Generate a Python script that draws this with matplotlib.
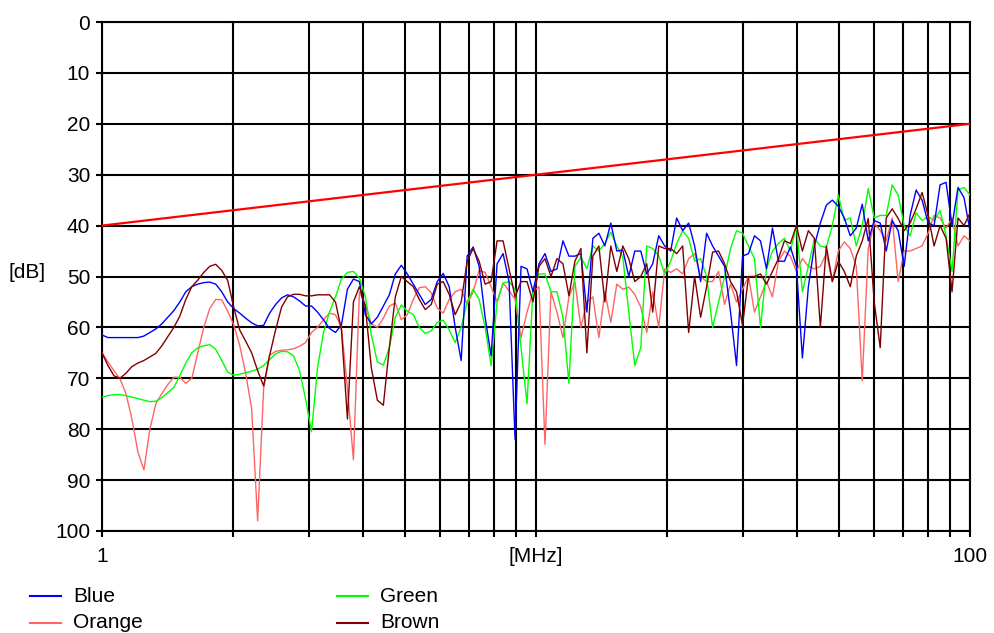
import numpy as np
import matplotlib.pyplot as plt
from matplotlib import font_manager
from matplotlib.lines import Line2D

# fonts: a narrow sans looks closest to the old bitmap font
names = {f.name for f in font_manager.fontManager.ttflist}
if 'Liberation Sans Narrow' in names:
    plt.rcParams['font.family'] = ['Liberation Sans Narrow', 'DejaVu Sans']
    fsize = 18
else:
    plt.rcParams['font.family'] = ['Liberation Sans', 'DejaVu Sans']
    fsize = 15

# ===============================
# DATA
# ===============================
# sampling grid 1..100 MHz (146 points, log spaced)
freq = np.geomspace(1, 100, 146)

blue = [
    61.5, 62, 62, 62, 62, 62, 62, 61.7, 61, 60.3,
    59.3, 58, 56.7, 55, 53, 52, 51.5, 51.2, 51.1, 51.5,
    53, 55, 56.3, 57.2, 58.2, 59.1, 59.7, 59.6, 57.2, 55.5,
    54.2, 53.6, 54, 54.8, 55.8, 55.8, 57, 58.5, 60.2, 61,
    59.5, 52.5, 50.5, 51, 57.5, 59.3, 58, 55.8, 53.6, 49.5,
    47.8, 49.5, 51.5, 53.5, 55.5, 54.5, 51, 49.4, 52, 60,
    66.5, 46, 44.2, 48, 58, 65.6, 47.5, 45.5, 51, 82,
    48, 48.5, 53, 47.5, 45.5, 49, 48.5, 43, 46, 46,
    45.5, 57, 42.5, 41.5, 44, 39.5, 45, 44.8, 50, 45,
    45, 49.5, 47.5, 42, 44, 45, 38.5, 41, 39.5, 44,
    51, 41.5, 44, 46, 48, 57, 67.5, 46, 45.5, 42,
    43, 48.5, 40.5, 47, 47, 44.2, 48, 66, 52, 44,
    39.5, 36, 35, 36.2, 38.5, 42, 40.5, 35.8, 43, 39,
    39.5, 45, 39, 41, 48, 38, 33, 35, 39.5, 40,
    32, 31.5, 40, 32.5, 34.5, 41,
]

green = [
    73.7, 73.4, 73.2, 73.2, 73.4, 73.7, 74, 74.3, 74.6, 74.5,
    73.8, 72.8, 71.8, 69.5, 67, 65, 64, 63.6, 63.4, 64.3,
    66.5, 68.8, 69.4, 69.2, 68.9, 68.6, 68.2, 67.5, 66.3, 65.2,
    64.7, 64.8, 65.6, 68.5, 74, 80.5, 68, 61, 57, 54,
    50.5, 49.2, 49, 50.3, 54, 61.5, 66.8, 67.4, 64, 58,
    55.6, 56.8, 57.5, 60, 61.2, 60.7, 59, 58.6, 60.5, 63,
    60, 55, 52.5, 54.5, 60, 67.5, 55, 51.3, 51, 52.5,
    64, 75, 52.5, 49.5, 49.5, 53, 53, 58, 71, 48,
    46.2, 48.5, 44, 45, 43.5, 41.3, 44, 46.2, 57, 67.5,
    64, 44, 44.5, 45.9, 49.5, 47, 43.5, 41, 42.5, 47,
    46.5, 50, 60, 55, 50, 44.5, 41, 41.5, 44, 46.5,
    60, 48.5, 45, 43.5, 42.5, 45, 40, 53, 48, 42.6,
    44, 44.3, 40, 34, 39, 38.5, 44, 40, 32.7, 38.5,
    38, 38, 32, 34, 40, 42, 37.5, 39, 38.2, 39,
    37, 42, 49, 33, 32.5, 34,
]

orange = [
    65, 66.8, 68.5, 70.1, 73, 78, 84.5, 88, 80, 75,
    73, 71.2, 69.8, 69.8, 71, 70, 65, 60, 56.3, 54.5,
    54.6, 56.8, 59.5, 63.5, 69, 76, 98, 72, 65.5, 64.7,
    64.5, 64.4, 64.2, 63.7, 63, 61, 60, 58.5, 57.2, 57.5,
    60, 72, 86, 53, 55.5, 59.3, 60, 58.2, 55.8, 55.2,
    58.5, 57.5, 54.5, 52.2, 52, 53.2, 56.2, 57.2, 54.5, 53,
    52.5, 55.5, 53, 48.8, 49.2, 52, 55, 51.3, 52.8, 54.5,
    62, 57, 53, 52, 83, 53, 57, 62, 54, 51,
    60, 55, 54, 62, 53, 59, 51.5, 52.5, 52.1, 53.5,
    56, 61, 53, 60, 48.5, 49.2, 48.5, 49.5, 46.5, 45.5,
    50, 51, 51, 49, 55.5, 51.5, 55, 52.5, 50, 57,
    54, 51, 54, 47, 45, 46, 49, 46.5, 48, 48.5,
    48, 45.5, 51, 45, 43.2, 44.5, 48, 70.5, 44.5, 39.5,
    41, 43, 38.5, 51, 45, 45, 44.5, 44, 41.5, 38,
    38.5, 40.5, 38.6, 44, 42, 43,
]

brown = [
    65, 67.5, 69.5, 70, 69, 67.7, 67, 66.5, 65.8, 65.1,
    63.6, 61.8, 60, 57.8, 54.5, 52, 50.7, 49.2, 48, 47.6,
    48.8, 50.8, 56, 60.5, 62.7, 65, 68.5, 71.5, 65.5, 60.5,
    56, 54, 53.5, 53.5, 53.8, 53.8, 53.6, 53.6, 53.6, 55,
    60.5, 78, 55, 52, 56, 68, 74.3, 75.3, 64, 54,
    50, 51, 52, 54.5, 56.5, 55.5, 51.5, 51, 53.5, 57.5,
    55, 47, 44.5, 47, 51.5, 51, 43, 43, 48.5, 54,
    51, 51, 55, 48, 46.5, 50, 46.5, 47.5, 53.8, 47,
    44.5, 65, 46, 44, 55, 44, 49, 44, 46.5, 51,
    50, 47.5, 57, 44, 44.5, 44.5, 45.5, 44, 61, 50,
    58, 52, 45.2, 45, 47.5, 51, 53, 59.6, 50, 50,
    49.5, 51.5, 49, 46.5, 43, 43.5, 40, 45, 41, 42.5,
    60, 44, 51, 47, 49, 52, 46, 43, 38.6, 55,
    64, 38.5, 36.7, 38.6, 41, 39.5, 36.7, 33.5, 38, 44,
    40, 42.5, 53, 38.5, 40, 37.5,
]

# limit line
limit_freq = [1, 100]
limit_db = [40, 20]

series_names = ["Blue", "Orange", "Green", "Brown"]
series_colors = ["#0000FF", "#FF6464", "#00FF00", "#800000"]

y_ticks = list(range(0, 101, 10))
x_major = [1, 10, 100]
x_major_labels = ["1", "[MHz]", "100"]
x_minor = [2, 3, 4, 5, 6, 7, 8, 9, 20, 30, 40, 50, 60, 70, 80, 90]

# ===============================
# PLOT
# ===============================
W, H = 994, 633
fig = plt.figure(figsize=(W / 100, H / 100), dpi=100)
fig.patch.set_facecolor("white")
ax = fig.add_axes([102 / W, 102 / H, 868 / W, 509 / H])

data = {"Blue": blue, "Orange": orange, "Green": green, "Brown": brown}
color_of = dict(zip(series_names, series_colors))
for name in ["Orange", "Green", "Blue", "Brown"]:
    ax.plot(freq, data[name], color=color_of[name], lw=1.0, zorder=3)

ax.plot(limit_freq, limit_db, color="#FF0000", lw=1.6, zorder=4)

ax.set_xscale("log")
ax.set_xlim(1, 100)
ax.set_ylim(100, 0)

ax.set_xticks(x_major)
ax.set_xticklabels(x_major_labels)
ax.set_xticks(x_minor, minor=True)
ax.set_xticklabels([], minor=True)
ax.set_yticks(y_ticks)
ax.set_yticklabels([str(v) for v in y_ticks])

ax.grid(True, which="both", color="black", lw=1.5)
ax.set_axisbelow(True)
for s in ax.spines.values():
    s.set_color("black")
    s.set_linewidth(1.5)

ax.tick_params(axis="both", which="both", direction="out", length=4.5,
               width=1.5, color="black", labelsize=fsize)
ax.tick_params(axis="x", which="both", pad=7)
ax.tick_params(axis="y", pad=4)

fig.text(27 / W, 1 - 272 / H, "[dB]", ha="center", va="center", fontsize=fsize)

# legend, two columns under the plot
legend_cols = [30, 337]
legend_rows = [596, 623]
for k, name in enumerate(series_names):
    cx = legend_cols[k // 2]
    cy = 1 - legend_rows[k % 2] / H
    fig.add_artist(Line2D([cx / W, (cx + 31) / W], [cy, cy],
                          color=color_of[name], lw=1.5))
    fig.text((cx + 43) / W, cy, name, ha="left", va="center", fontsize=fsize)

plt.savefig("out.png", dpi=100)
